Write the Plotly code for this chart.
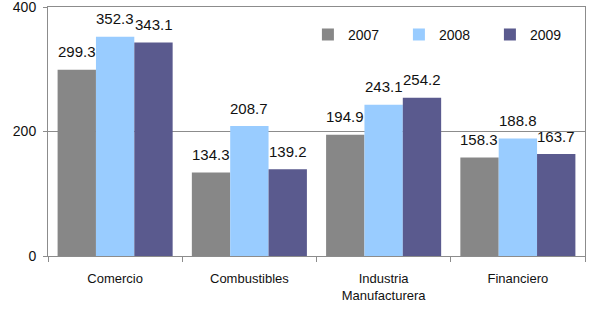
import plotly.graph_objects as go

categories = ["Comercio", "Combustibles", "Industria<br>Manufacturera", "Financiero"]
years = ["2007", "2008", "2009"]
v2007 = [299.3, 134.3, 194.9, 158.3]
v2008 = [352.3, 208.7, 243.1, 188.8]
v2009 = [343.1, 139.2, 254.2, 163.7]
series = [v2007, v2008, v2009]
colors = ["#878787", "#99ccff", "#5a5a8e"]
y_ticks = [0, 200, 400]
subtitle = "(Valores ajustados en millones de US$)"

FONT = "Liberation Sans, Arial, sans-serif"

fig = go.Figure()
for name, vals, col in zip(years, series, colors):
    fig.add_trace(go.Bar(x=categories, y=vals, name=name, marker=dict(color=col, line=dict(width=0))))

ann = []
for i, vals in enumerate(series):
    for c, v in zip(categories, vals):
        ann.append(dict(x=c, y=v, xref="x", yref="y", text=f"{v:.1f}", showarrow=False,
                        xshift=(i - 1) * 38.4, yshift=18, yanchor="middle",
                        font=dict(size=15, color="#111", family=FONT)))
ann.append(dict(x=0.51, y=1, xref="paper", yref="paper", text=subtitle, showarrow=False,
                yanchor="bottom", yshift=8, font=dict(size=13, color="#111", family=FONT)))

fig.update_layout(
    width=590, height=309,
    margin=dict(l=48, r=5, t=7, b=53, autoexpand=False),
    paper_bgcolor="white", plot_bgcolor="white",
    barmode="group", bargap=0.143, bargroupgap=0,
    font=dict(family=FONT, size=14, color="#111"),
    showlegend=True,
    legend=dict(orientation="h", x=0.484, y=0.888, xanchor="left", yanchor="middle",
                entrywidth=46, entrywidthmode="pixels", bgcolor="rgba(0,0,0,0)",
                font=dict(size=14), itemwidth=30, traceorder="normal"),
    annotations=ann,
)
fig.update_xaxes(showline=True, linecolor="#8c8c8c", linewidth=1, mirror=True,
                 ticks="outside", tickson="boundaries", ticklen=5, tickcolor="#8c8c8c",
                 tickfont=dict(size=13), showgrid=False, ticklabelstandoff=10, automargin=False)
fig.update_yaxes(range=[0, 400], tickvals=y_ticks, showline=True, linecolor="#8c8c8c",
                 linewidth=1, mirror=True, ticks="outside", ticklen=4, tickcolor="#8c8c8c",
                 showgrid=True, gridcolor="#8c8c8c", gridwidth=1, zeroline=False,
                 tickfont=dict(size=14), ticklabelstandoff=4, ticklabeloverflow="allow",
                 automargin=False)

fig.write_html("out.html", config={"displayModeBar": False},
               post_script="document.body.style.margin='0';document.body.style.overflow='hidden';")
